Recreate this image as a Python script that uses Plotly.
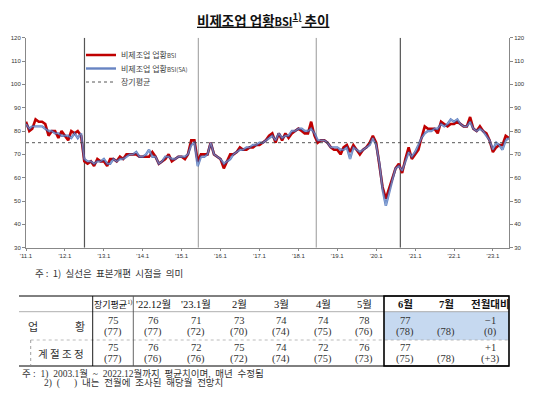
import pandas as pd
import plotly.graph_objects as go

W, H = 551, 412
OFF = 8  # page body margin of the browser

# monthly non-manufacturing business conditions BSI, 2011.1 ~ 2023.6
bsi = [84, 80, 81, 85, 84, 84, 83, 78, 80, 80, 77, 80,
       78, 76, 80, 79, 80, 78, 67, 66, 67, 65, 68, 67,
       67, 65, 68, 68, 67, 69, 68, 70, 70, 70, 70, 69,
       69, 69, 69, 71, 69, 66, 67, 68, 70, 67, 68, 69,
       69, 68, 70, 76, 76, 67, 70, 70, 70, 75, 70, 69,
       68, 64, 67, 70, 70, 71, 73, 72, 72, 73, 73, 74,
       74, 75, 76, 78, 79, 75, 79, 76, 79, 77, 79, 80,
       81, 80, 79, 79, 84, 78, 75, 76, 76, 75, 73, 72,
       72, 70, 73, 74, 71, 74, 72, 70, 72, 73, 75, 78,
       75, 65, 56, 51, 55, 60, 64, 66, 62, 68, 73, 68,
       70, 72, 77, 82, 81, 81, 81, 79, 84, 83, 82, 83,
       83, 84, 83, 82, 82, 86, 81, 80, 82, 80, 79, 76,
       71, 73, 74, 74, 78, 77]

bsi_sa = [83, 81, 82, 82, 82, 82, 81, 80, 80, 79, 79, 78,
          78, 78, 77, 79, 77, 79, 68, 67, 67, 66, 67, 67,
          68, 66, 66, 68, 67, 68, 68, 69, 70, 70, 71, 69,
          69, 70, 72, 69, 69, 66, 67, 69, 69, 68, 68, 69,
          69, 69, 70, 74, 75, 65, 69, 69, 70, 75, 70, 69,
          68, 66, 67, 68, 70, 71, 72, 72, 73, 73, 74, 74,
          75, 75, 76, 77, 78, 76, 79, 77, 78, 78, 80, 80,
          81, 81, 80, 80, 81, 79, 76, 76, 76, 75, 73, 73,
          73, 72, 72, 73, 68, 73, 72, 71, 72, 73, 74, 77,
          74, 66, 55, 48, 54, 59, 64, 65, 63, 67, 71, 69,
          71, 74, 77, 79, 80, 80, 81, 81, 83, 82, 83, 85,
          84, 85, 83, 82, 82, 84, 81, 80, 81, 80, 78, 76,
          72, 75, 74, 72, 76, 77]

long_term_avg = 75
months = pd.date_range("2011-01-01", periods=len(bsi), freq="MS")
tick_dates = pd.date_range("2011-01-01", "2023-01-01", freq="YS")
tick_text = ["'%02d.1" % (d.year % 100) for d in tick_dates]
# sample revisions (solid vertical lines)
revisions = ["2012-07-03", "2015-06-07", "2018-06-18", "2020-08-15"]
revision_colors = ["#555555", "#aaaaaa", "#aaaaaa", "#555555"]

# table
table_cols = ["장기평균<sup>1)</sup>", "'22.12월", "'23.1월", "2월", "3월", "4월", "5월",
              "<b>6월</b>", "<b>7월</b>", "<b>전월대비</b>"]
bsi_actual = ["75", "76", "71", "73", "74", "74", "78", "77", "", "−1"]
bsi_forecast = ["(77)", "(77)", "(72)", "(70)", "(74)", "(75)", "(76)", "(78)", "(78)", "(0)"]
sa_actual = ["75", "76", "72", "75", "74", "72", "76", "77", "", "+1"]
sa_forecast = ["(77)", "(76)", "(76)", "(72)", "(74)", "(75)", "(73)", "(75)", "(78)", "(+3)"]


def X(p):
    return (p - OFF) / W


def Y(p):
    return 1 - (p - OFF) / H


legend_font = dict(family="Noto Sans CJK KR", size=8, color="#444")

fig = go.Figure()
fig.add_trace(go.Scatter(x=months, y=bsi, mode="lines", name="비제조업 업황<span style='font-size:6px'>BSI</span>",
                         legend="legend", line=dict(color="#C00000", width=2.6)))
fig.add_trace(go.Scatter(x=months, y=bsi_sa, mode="lines", name="비제조업 업황<span style='font-size:6px'>BSI(SA)</span>",
                         legend="legend2", line=dict(color="rgba(45,85,170,0.72)", width=2.4)))
fig.add_trace(go.Scatter(x=months, y=bsi_sa, mode="lines", showlegend=False, hoverinfo="skip",
                         line=dict(color="rgba(185,215,245,0.55)", width=0.8)))
fig.add_trace(go.Scatter(x=[months[0], months[-1]], y=[long_term_avg, long_term_avg], mode="lines",
                         name="장기평균", yaxis="y2", legend="legend3",
                         line=dict(color="#444444", width=0.9, dash="dot")))

for d, c in zip(revisions, revision_colors):
    fig.add_shape(type="line", xref="x", yref="y", x0=d, x1=d, y0=30, y1=120,
                  line=dict(color=c, width=1.2), layer="below")

tickfont = dict(family="Liberation Sans, Noto Sans CJK KR", size=6, color="#333")
leg = dict(x=X(81), xanchor="left", yanchor="middle", bgcolor="rgba(0,0,0,0)",
           font=legend_font, itemwidth=30, tracegroupgap=0)
fig.update_layout(
    width=W, height=H, autosize=False,
    margin=dict(l=0, r=0, t=0, b=0),
    paper_bgcolor="white", plot_bgcolor="white",
    showlegend=True,
    legend=dict(leg, y=Y(55)),
    legend2=dict(leg, y=Y(68.5)),
    legend3=dict(leg, y=Y(82)),
    xaxis=dict(domain=[X(26), X(509)], range=[months[0], months[-1]], type="date",
               tickvals=tick_dates, ticktext=tick_text, tickfont=tickfont,
               showline=True, linecolor="#888", linewidth=1, ticks="outside", ticklen=2,
               tickcolor="#888", showgrid=False, zeroline=False, automargin=False),
    yaxis=dict(domain=[Y(247.7), Y(37.7)], range=[30, 120], dtick=10, tickfont=tickfont,
               showline=True, linecolor="#888", linewidth=1, ticks="outside", ticklen=3,
               tickcolor="#888", showgrid=False, zeroline=False, automargin=False),
    yaxis2=dict(overlaying="y", side="right", range=[30, 120], dtick=10, tickfont=tickfont,
                showline=True, linecolor="#888", linewidth=1, ticks="outside", ticklen=3,
                tickcolor="#888", showgrid=False, zeroline=False, automargin=False),
)

ann = []
ann.append(dict(x=X(263), y=Y(19.5), text="<b><u>비제조업 업황<span style='font-size:11px'>BSI</span><sup>1)</sup> 추이</u></b>",
                font=dict(family="Noto Sans CJK KR", size=13.5, color="#111")))
ann.append(dict(x=X(33), y=Y(273), xanchor="left", text="주 :  1)  실선은  표본개편  시점을  의미",
                font=dict(family="Noto Sans CJK KR", size=9.5, color="#333")))

# table geometry
col_x = [113, 153, 196, 239, 281, 323, 364, 405, 446, 490]
tbl_l, tbl_r = 19, 509
top, hdr, mid, bot = 296, 311.7, 340, 366
box_l = 384
serif = "Liberation Serif, Noto Sans CJK KR"

fig.add_shape(type="rect", xref="paper", yref="paper", x0=X(box_l), x1=X(tbl_r), y0=Y(mid), y1=Y(hdr),
              fillcolor="#C6D9F0", line=dict(width=0), layer="below")
for y0, col, w, dash, xl in [(top, "#000", 1, "solid", tbl_l), (hdr, "#999", 0.8, "solid", tbl_l),
                              (mid, "#aaa", 0.8, "dot", 30.7), (bot, "#000", 1, "solid", tbl_l)]:
    fig.add_shape(type="line", xref="paper", yref="paper", x0=X(xl), x1=X(tbl_r), y0=Y(y0), y1=Y(y0),
                  line=dict(color=col, width=w, dash=dash))
for xv, col in [(92.7, "#000"), (133.3, "#555")]:
    fig.add_shape(type="line", xref="paper", yref="paper", x0=X(xv), x1=X(xv), y0=Y(top), y1=Y(bot),
                  line=dict(color=col, width=0.9))
fig.add_shape(type="line", xref="paper", yref="paper", x0=X(30.7), x1=X(30.7), y0=Y(mid), y1=Y(bot),
              line=dict(color="#888", width=0.8, dash="dot"))
fig.add_shape(type="rect", xref="paper", yref="paper", x0=X(box_l), x1=X(tbl_r), y0=Y(bot), y1=Y(top),
              line=dict(color="#000", width=1.6))

for i, cx in enumerate(col_x):
    hsize = 9 if i == 0 else 10.5
    ann.append(dict(x=X(cx), y=Y(304), text=table_cols[i], font=dict(family=serif, size=hsize, color="#111")))
    for txt, yy in [(bsi_actual[i], 320), (bsi_forecast[i], 332), (sa_actual[i], 347), (sa_forecast[i], 358.5)]:
        if txt:
            ann.append(dict(x=X(cx), y=Y(yy), text=txt, font=dict(family=serif, size=10.5, color="#333")))

ann.append(dict(x=X(33), y=Y(326), text="업", font=dict(family="Noto Sans CJK KR", size=11, color="#333")))
ann.append(dict(x=X(80), y=Y(326), text="황", font=dict(family="Noto Sans CJK KR", size=11, color="#333")))
ann.append(dict(x=X(61), y=Y(353), text="계 절 조 정", font=dict(family="Noto Sans CJK KR", size=10.5, color="#333")))

ann.append(dict(x=X(20), y=Y(373.5), xanchor="left",
                text="주 :  1)  2003.1월  ~  2022.12월까지  평균치이며,  매년  수정됨",
                font=dict(family=serif, size=9.5, color="#333")))
ann.append(dict(x=X(42), y=Y(382.5), xanchor="left",
                text="2)  (      )  내는  전월에  조사된  해당월  전망치",
                font=dict(family=serif, size=9.5, color="#333")))

for a in ann:
    a.setdefault("xref", "paper")
    a.setdefault("yref", "paper")
    a.setdefault("showarrow", False)
    a.setdefault("xanchor", "center")
    a.setdefault("yanchor", "middle")
fig.update_layout(annotations=ann)

fig.write_html("out.html")
